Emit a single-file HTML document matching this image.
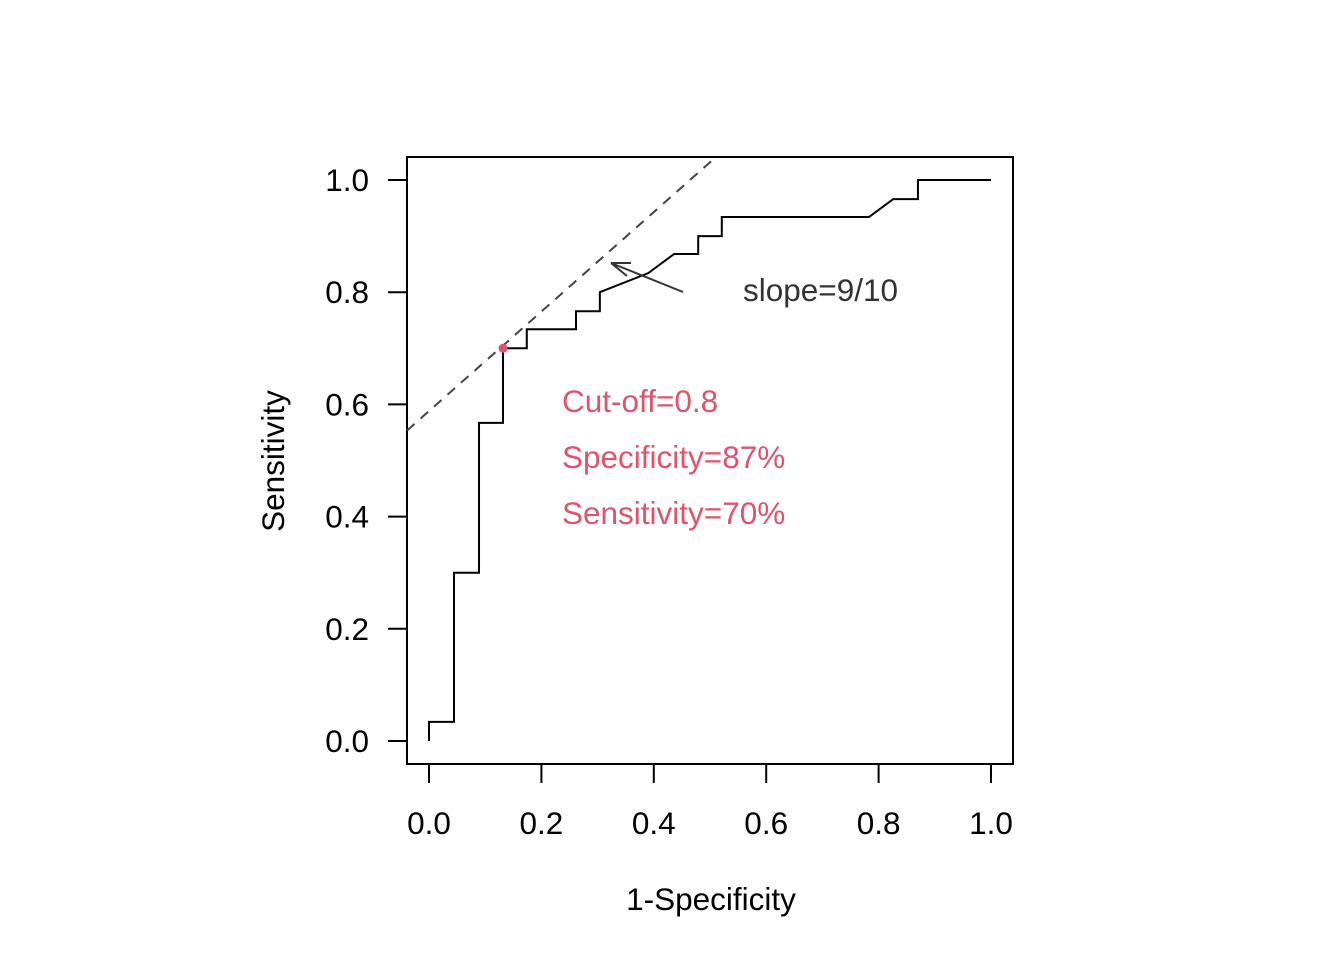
<!DOCTYPE html>
<html><head><meta charset="utf-8"><style>
body{margin:0;background:#fff}
text{font-family:"Liberation Sans",Arial,sans-serif}
</style></head><body>
<svg id="chart" width="1344" height="960" xmlns="http://www.w3.org/2000/svg">
<rect x="0" y="0" width="1344" height="960" fill="#fff"/>
<rect x="407" y="157" width="606" height="607" fill="none" stroke="#000" stroke-width="2"/>
<g id="axes"></g>
<g id="marks"></g>
<text x="711" y="910" text-anchor="middle" font-size="31.5">1-Specificity</text>
<text transform="translate(284,461) rotate(-90)" text-anchor="middle" font-size="31.5">Sensitivity</text>
<text x="743" y="301" font-size="31.5" fill="#333">slope=9/10</text>
<text x="562" y="412" font-size="31.5" fill="#DF536B">Cut-off=0.8</text>
<text x="562" y="468" font-size="31.5" fill="#DF536B">Specificity=87%</text>
<text x="562" y="524" font-size="31.5" fill="#DF536B">Sensitivity=70%</text>
</svg>
<script>
const fpr = [0,0,0.0445,0.0445,0.089,0.089,0.1317,0.1317,0.174,0.174,0.2616,0.2616,0.304,0.304,0.39,0.436,0.479,0.479,0.521,0.521,0.783,0.826,0.870,0.870,1.0];
const tpr = [0,0.034,0.034,0.30,0.30,0.567,0.567,0.70,0.70,0.734,0.734,0.766,0.766,0.80,0.834,0.868,0.868,0.90,0.90,0.934,0.934,0.966,0.966,1.0,1.0];
const xTicks = [0,0.2,0.4,0.6,0.8,1.0];
const yTicks = [0,0.2,0.4,0.6,0.8,1.0];
const cutPoint = [0.1317,0.70];
const slope = 0.9;
const NS='http://www.w3.org/2000/svg';
const X = v => 429 + v*562;
const Y = v => 741 - v*561;
const axes = document.getElementById('axes');
const marks = document.getElementById('marks');
function mk(tag, attrs, parent){const e=document.createElementNS(NS,tag);for(const k in attrs)e.setAttribute(k,attrs[k]);parent.appendChild(e);return e;}
xTicks.forEach(t=>{
  const l=mk('line',{x1:X(t),x2:X(t),y1:764,y2:783,stroke:'#000','stroke-width':2},axes);
  
  
  const tx=mk('text',{x:X(t),y:834,'text-anchor':'middle','font-size':31.5},axes);
  tx.textContent=t.toFixed(1);
  
  
});
yTicks.forEach(t=>{
  const l=mk('line',{x1:388,x2:407,y1:Y(t),y2:Y(t),stroke:'#000','stroke-width':2},axes);
  
  
  const tx=mk('text',{x:369,y:Y(t)+11,'text-anchor':'end','font-size':31.5},axes);
  tx.textContent=t.toFixed(1);
  
  
});
const x0=-0.039, y0=cutPoint[1]+slope*(x0-cutPoint[0]);
const y1=1.041, x1=cutPoint[0]+(y1-cutPoint[1])/slope;
const dl=mk('line',{x1:X(x0),y1:Y(y0)-4,x2:X(x1),y2:Y(y1),stroke:'#444','stroke-width':2,'stroke-dasharray':'10,8'},marks);


const pts=fpr.map((v,i)=>X(v)+','+Y(tpr[i])).join(' ');
const pl=mk('polyline',{points:pts,fill:'none',stroke:'#000','stroke-width':2},marks);


const c=mk('circle',{cx:X(cutPoint[0]),cy:Y(cutPoint[1]),r:4.5,fill:'#DF536B'},marks);


const ar=mk('path',{d:'M683,292 L611,263 M611,263 L627,276 M611,263 L631,263',fill:'none',stroke:'#333','stroke-width':2},marks);


</script>
</body></html>
